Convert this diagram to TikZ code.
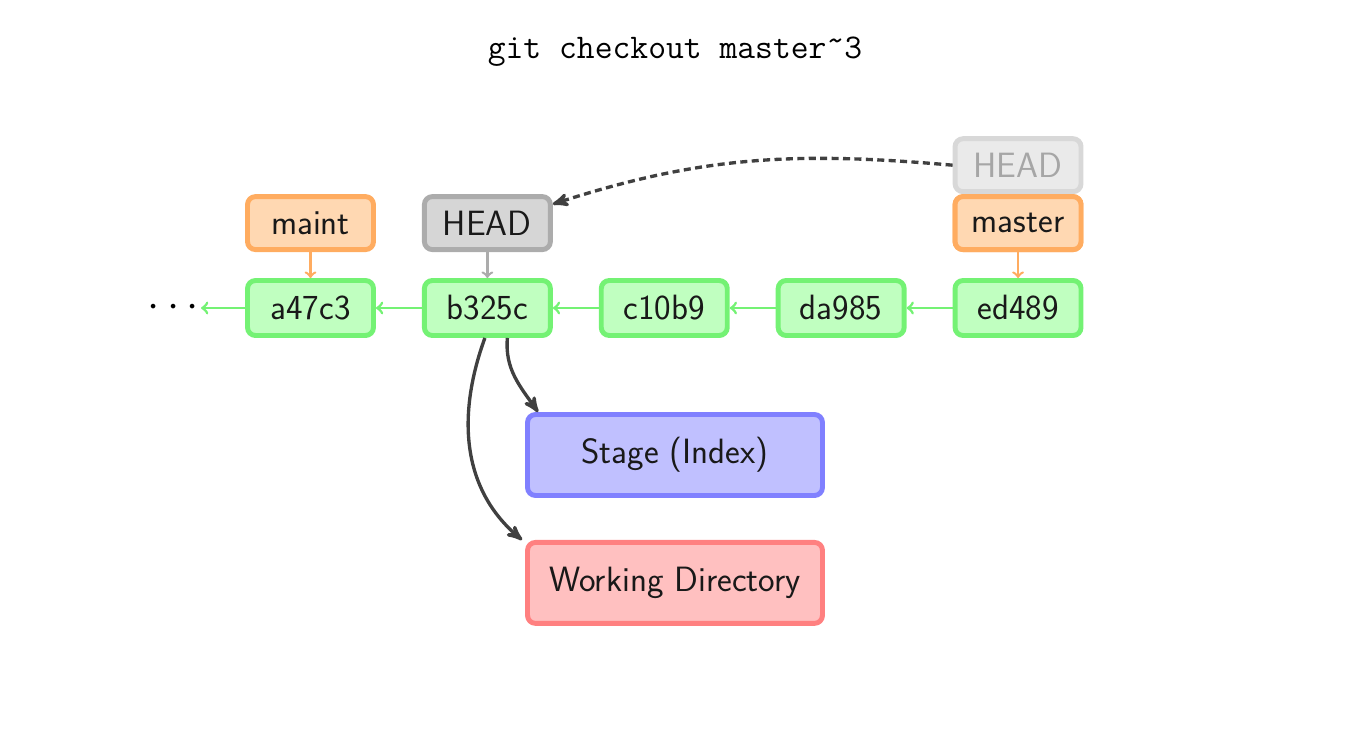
\documentclass[tikz,border=0pt]{standalone}
\usetikzlibrary{arrows,positioning}
\definecolor{CommitClr}{RGB}{192,255,192}
\definecolor{CommitLineClr}{RGB}{116,242,116}
\definecolor{BranchClr}{RGB}{255,216,178}
\definecolor{BranchLineClr}{RGB}{255,172,96}
\definecolor{HeadClr}{RGB}{214,214,214}
\definecolor{HeadLineClr}{RGB}{172,172,172}
\definecolor{GhostClr}{RGB}{234,234,234}
\definecolor{GhostLineClr}{RGB}{216,216,216}
\definecolor{StageClr}{RGB}{192,192,255}
\definecolor{StageLineClr}{RGB}{128,128,255}
\definecolor{WorkClr}{RGB}{255,192,192}
\definecolor{WorkLineClr}{RGB}{255,128,128}
\definecolor{ArrowClr}{RGB}{64,64,64}

\begin{document}
\begin{tikzpicture}[x=0.02cm,y=0.02cm,
  box/.style={draw,rounded corners=0.16cm,line width=2.8pt,text=black!90,
    font=\sffamily\fontsize{20}{24}\selectfont},
  commit/.style={box,fill=CommitClr,draw=CommitLineClr,minimum width=2.52cm,minimum height=1.1cm},
  branch/.style={box,fill=BranchClr,draw=BranchLineClr,minimum width=2.52cm,minimum height=1.06cm},
  headbox/.style={box,fill=HeadClr,draw=HeadLineClr,minimum width=2.52cm,minimum height=1.06cm},
  area/.style={box,minimum width=5.9cm,minimum height=1.62cm},
  parent/.style={->,line width=1.6pt,draw=CommitLineClr},
  refarrow/.style={->,line width=1.4pt},
  move/.style={-stealth',line width=1.9pt,draw=ArrowClr}]
\useasboundingbox (0,0) rectangle (1350,-744);

\node (title) at (675,-52) {\ttfamily\fontsize{19.7}{23}\selectfont git checkout master\raisebox{0.5ex}{\textasciitilde}3};

% commits
\node[commit] (a47c3) at (310.5,-308) {a47c3};
\node[commit,right=0.92cm of a47c3] (b325c) {b325c};
\node[commit,right=0.92cm of b325c] (c10b9) {c10b9};
\node[commit,right=0.92cm of c10b9] (da985) {da985};
\node[commit,right=0.92cm of da985] (ed489) {ed489};
\node[left=0.88cm of a47c3,inner sep=1pt,font=\fontsize{27}{30}\selectfont] (dots) {$\cdots$};

% refs
\node[branch,above=0.52cm of a47c3] (maint) {maint};
\node[headbox,above=0.52cm of b325c] (head) {HEAD};
\node[branch,above=0.52cm of ed489] (master) {master};
\node[box,fill=GhostClr,draw=GhostLineClr,text=black!35,minimum width=2.52cm,
  minimum height=1.06cm,above=0pt of master] (oldhead) {HEAD};
\node[branch,above=0.52cm of ed489] {master};

% stage and working directory
\node[area,fill=StageClr,draw=StageLineClr] (stage) at (675,-455) {Stage (Index)};
\node[area,fill=WorkClr,draw=WorkLineClr,below=0.84cm of stage] (work) {Working Directory};

\draw[parent] (a47c3) -- (dots);
\draw[parent] (b325c) -- (a47c3);
\draw[parent] (c10b9) -- (b325c);
\draw[parent] (da985) -- (c10b9);
\draw[parent] (ed489) -- (da985);

\draw[refarrow,draw=BranchLineClr] (maint) -- (a47c3);
\draw[refarrow,draw=HeadLineClr] (head) -- (b325c);
\draw[refarrow,draw=BranchLineClr] (master) -- (ed489);

\draw[move,dash pattern=on 4pt off 2.5pt] (oldhead.west) to[out=175,in=18] ([yshift=-0.2cm]head.north east);
\draw[move] ([xshift=0.4cm]b325c.south) to[out=-95,in=125] ([xshift=0.26cm]stage.north west);
\draw[move] ([xshift=-0.05cm]b325c.south) to[out=-110,in=140] ([xshift=-0.06cm]work.north west);
\end{tikzpicture}
\end{document}
